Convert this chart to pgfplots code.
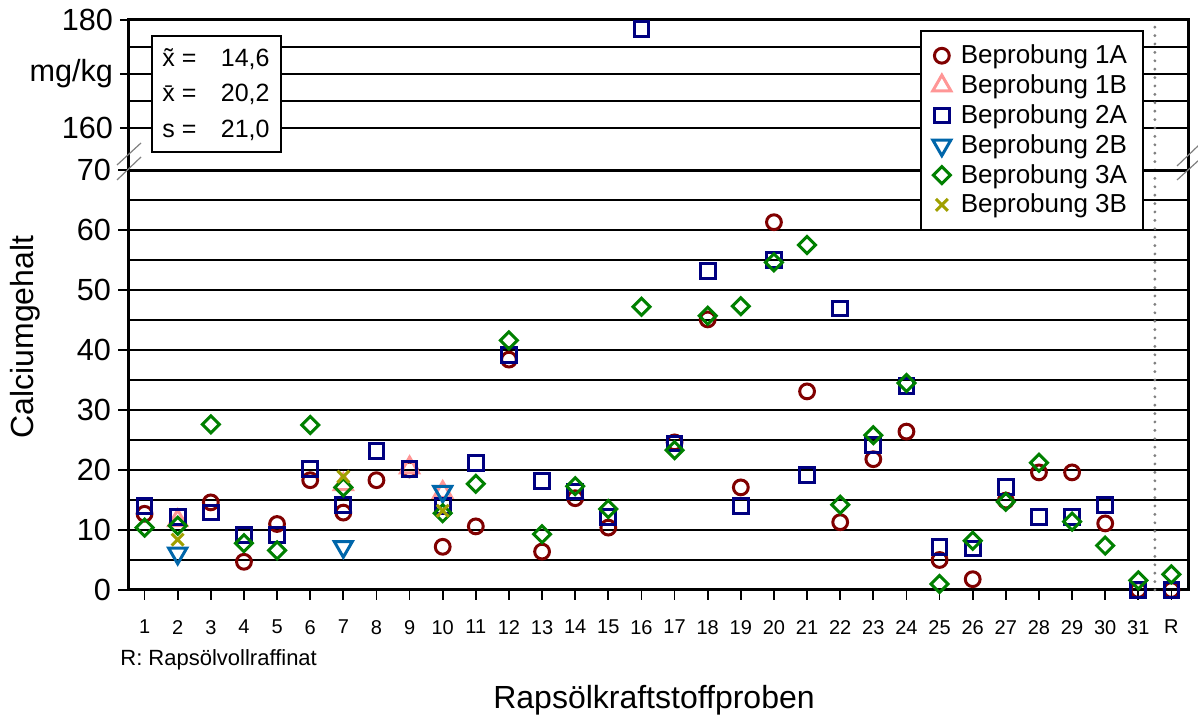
\documentclass[border=0pt]{standalone}
\usepackage{fontspec}
\setmainfont{Liberation Sans}
\usepackage{pgfplots}
\pgfplotsset{compat=1.18}

\definecolor{c1a}{RGB}{128,0,0}
\definecolor{c1b}{RGB}{255,150,150}
\definecolor{c2a}{RGB}{0,0,128}
\definecolor{c2b}{RGB}{0,102,170}
\definecolor{c3a}{RGB}{0,128,0}
\definecolor{c3b}{RGB}{160,160,0}

\pgfplotsset{
  base/.style={
    scale only axis, width=530pt,
    xmin=0.5, xmax=32.5,
    clip=false,
    /pgf/number format/assume math mode=true,
    tick align=outside,
    major tick length=4pt,
    minor tick length=0pt,
    ytick pos=left,
    tick style={black, line width=0.9pt},
    ymajorgrids, yminorgrids,
    major grid style={black, line width=0.8pt},
    minor grid style={black, line width=0.8pt},
    yticklabel style={font=\fontsize{15.3}{18}\selectfont, xshift=0pt},
  },
  s1a/.style={only marks, mark=o, mark size=3.7pt, line width=1.5pt, color=c1a},
  s1b/.style={only marks, mark=triangle, mark size=5.2pt, line width=1.5pt, color=c1b},
  s2a/.style={only marks, mark=square, mark size=3.7pt, line width=1.5pt, color=c2a},
  s2b/.style={only marks, mark=triangle, mark options={rotate=180}, mark size=5.2pt, line width=1.5pt, color=c2b},
  s3a/.style={only marks, mark=square, mark options={rotate=45}, mark size=3.0pt, line width=1.5pt, color=c3a},
  s3b/.style={only marks, mark=x, mark size=4.2pt, line width=1.5pt, color=c3b},
}

\begin{document}
\begin{tikzpicture}
\useasboundingbox (0,0) rectangle (599pt,357.5pt);

% upper part of the broken axis
\begin{axis}[base,
  at={(64pt,272.5pt)}, anchor=south west,
  height=75pt,
  ymin=152.2222, ymax=180,
  xtick=\empty,
  ytick={160,170,180},
  yticklabels={160,mg/kg,180},
  minor ytick={165,175},
  axis line style={draw=none},
]
\draw[gray, line width=1.6pt, line cap=round, dash pattern=on 0pt off 4.2pt] (axis cs:31.5,152.2222) -- (axis cs:31.5,180);
\draw[black, line width=1.5pt] (rel axis cs:0,0) -- (rel axis cs:0,1) -- (rel axis cs:1,1) -- (rel axis cs:1,0);
\addplot[s2a] coordinates {(16,178.3)};
\draw[black, line width=0.8pt, fill=white] (axis description cs:0.0226,0.8933) rectangle (axis description cs:0.1443,0.12);
\end{axis}

% lower part
\begin{axis}[base,
  at={(64pt,62.5pt)}, anchor=south west,
  height=210pt,
  ymin=0, ymax=70,
  ytick={0,10,20,30,40,50,60,70},
  minor ytick={5,15,25,35,45,55,65},
  xtick={1,2,3,4,5,6,7,8,9,10,11,12,13,14,15,16,17,18,19,20,21,22,23,24,25,26,27,28,29,30,31,32},
  xticklabels={1,2,3,4,5,6,7,8,9,10,11,12,13,14,15,16,17,18,19,20,21,22,23,24,25,26,27,28,29,30,31,R},
  xtick pos=bottom,
  major x tick style={line width=0.9pt},
  major tick length=5pt,
  xticklabel style={font=\fontsize{10}{12}\selectfont, yshift=-6.5pt},
  axis line style={black, line width=1.5pt},
  legend style={at={(0.7472,1.3333)}, anchor=north west, draw=black, line width=0.8pt,
    font=\fontsize{13}{15.6}\selectfont, inner xsep=6pt, inner ysep=5pt, row sep=0pt,
    /tikz/every odd column/.append style={column sep=3pt}},
  legend cell align=left,
]
\draw[gray, line width=1.6pt, line cap=round, dash pattern=on 0pt off 4.2pt] (axis cs:31.5,0) -- (axis cs:31.5,70);
\addplot[s1a] coordinates {(1,12.7)(3,14.6)(4,4.7)(5,11.0)(6,18.3)(7,12.9)(8,18.3)(9,20.1)(10,7.2)(11,10.6)(12,38.4)(13,6.4)(14,15.3)(15,10.4)(17,24.6)(18,45.1)(19,17.1)(20,61.3)(21,33.1)(22,11.3)(23,21.8)(24,26.4)(25,5.0)(26,1.8)(27,14.9)(28,19.6)(29,19.6)(30,11.1)(31,0)(32,0)};
\addlegendentry{Beprobung 1A}
\addplot[s1b] coordinates {(2,11.6)(7,17.6)(9,20.4)(10,16.3)};
\addlegendentry{Beprobung 1B}
\addplot[s2a] coordinates {(1,14.0)(2,12.2)(3,12.9)(4,9.2)(5,9.2)(6,20.1)(7,14.2)(8,23.1)(9,20.1)(10,14.0)(11,21.1)(12,39.2)(13,18.1)(14,16.4)(15,12.2)(17,24.4)(18,53.1)(19,14.0)(20,55.0)(21,19.1)(22,46.9)(23,24.2)(24,34.0)(25,7.1)(26,6.9)(27,17.1)(28,12.1)(29,12.1)(30,14.1)(31,0)(32,0)};
\addlegendentry{Beprobung 2A}
\addplot[s2b] coordinates {(2,6.1)(7,7.2)(10,16.4)};
\addlegendentry{Beprobung 2B}
\addplot[s3a] coordinates {(1,10.4)(2,10.7)(3,27.6)(4,7.8)(5,6.6)(6,27.5)(7,17.1)(10,12.8)(11,17.7)(12,41.6)(13,9.3)(14,17.3)(15,13.5)(16,47.2)(17,23.3)(18,45.7)(19,47.3)(20,54.6)(21,57.5)(22,14.2)(23,25.8)(24,34.5)(25,1.0)(26,8.2)(27,14.7)(28,21.2)(29,11.4)(30,7.4)(31,1.6)(32,2.6)};
\addlegendentry{Beprobung 3A}
\addplot[s3b] coordinates {(2,8.4)(7,18.9)(10,13.2)};
\addlegendentry{Beprobung 3B}
\end{axis}

% statistics box text
\begin{scope}[font=\fontsize{12.5}{15}\selectfont]
\node[anchor=base west, inner sep=0pt] at (81pt,324pt) {x̃ =};
\node[anchor=base east, inner sep=0pt] at (135pt,324pt) {14,6};
\node[anchor=base west, inner sep=0pt] at (81pt,306.5pt) {x̄ =};
\node[anchor=base east, inner sep=0pt] at (135pt,306.5pt) {20,2};
\node[anchor=base west, inner sep=0pt] at (81pt,288.5pt) {s =};
\node[anchor=base east, inner sep=0pt] at (135pt,288.5pt) {21,0};
\end{scope}

% axis break marks
\draw[gray, line width=0.6pt] (58.5pt,275pt) -- (70.5pt,286pt);
\draw[gray, line width=0.6pt] (58.5pt,267.5pt) -- (70.5pt,279pt);
\draw[gray, line width=0.6pt] (588.5pt,274.5pt) -- (599.5pt,285pt);
\draw[gray, line width=0.6pt] (588.5pt,267.5pt) -- (599.5pt,277.5pt);

% titles
\node[rotate=90, font=\fontsize{16}{19}\selectfont] at (12.5pt,189pt) {Calciumgehalt};
\node[font=\fontsize{16}{19}\selectfont] at (327pt,7.5pt) {Rapsölkraftstoffproben};
\node[anchor=west, inner sep=0pt, font=\fontsize{11}{13}\selectfont] at (60pt,27.5pt) {R: Rapsölvollraffinat};
\end{tikzpicture}
\end{document}
